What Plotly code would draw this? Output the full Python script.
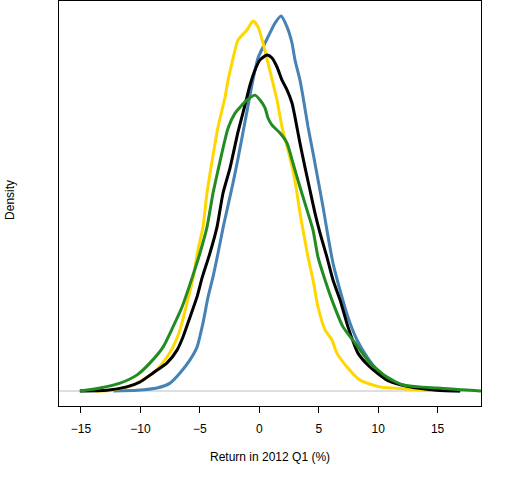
import plotly.graph_objects as go

# density curves (x in %, y in density units)
blue_x = [-12.28, -10.28, -8.60, -7.51, -6.67, -5.83, -5.24, -4.74, -4.31, -3.89, -3.47, -3.05,
          -2.63, -2.21, -1.79, -1.37, -0.95, -0.53, -0.11, 0.31, 0.73, 1.32, 1.83, 2.33, 2.75,
          3.00, 3.42, 3.68, 4.10, 4.52, 4.94, 5.36, 5.69, 6.20, 6.79, 7.46, 8.22, 9.06, 9.90,
          10.99, 12.67, 14.95, 16.9]
blue_y = [0.0, 0.0002, 0.0008, 0.0021, 0.0048, 0.0083, 0.0117, 0.0181, 0.0251, 0.0305, 0.0368,
          0.0435, 0.0495, 0.0555, 0.0620, 0.0690, 0.0760, 0.0830, 0.0888, 0.0917, 0.0944, 0.0981,
          0.1000, 0.0971, 0.0928, 0.0883, 0.0829, 0.0784, 0.0704, 0.0635, 0.0563, 0.0491, 0.0429,
          0.0341, 0.0269, 0.0197, 0.0136, 0.0091, 0.0056, 0.0029, 0.0011, 0.0003, 0.0]

gold_x = [-13.82, -12.56, -10.61, -8.94, -7.93, -7.26, -6.67, -6.08, -5.58, -5.16, -4.74, -4.40,
          -3.96, -3.47, -3.14, -2.88, -2.63, -2.30, -2.04, -1.79, -1.03, -0.53, -0.11,
          0.31, 0.73, 1.15, 1.49, 1.91, 2.41, 2.83, 3.17, 3.42, 3.68, 4.10, 4.52, 4.94, 5.53,
          6.11, 6.53, 7.38, 8.47, 10.15, 12.67, 14.4]
gold_y = [0.0, 0.0001, 0.0016, 0.0048, 0.0083, 0.0117, 0.0163, 0.0235, 0.0300, 0.0376, 0.0437,
          0.0528, 0.0616, 0.0704, 0.0749, 0.0784, 0.0829, 0.0875, 0.0909, 0.0936, 0.0963,
          0.0987, 0.0971, 0.0928, 0.0875, 0.0821, 0.0776, 0.0704, 0.0643, 0.0589, 0.0528, 0.0475,
          0.0429, 0.0357, 0.0296, 0.0224, 0.0163, 0.0136, 0.0101, 0.0064, 0.0029, 0.0011, 0.0005,
          0.0001]

black_x = [-15.1, -12.83, -11.15, -10.03, -8.94, -7.76, -6.92, -6.42, -5.83, -5.24, -4.82, -4.15,
           -3.56, -3.05, -2.46, -1.79, -1.20, -0.78, -0.36, 0.06, 0.65, 1.07, 1.49,
           1.91, 2.33, 2.75, 3.00, 3.42, 3.84, 4.26, 4.68, 5.11, 5.69, 6.20, 6.79, 7.46, 8.30,
           9.31, 10.74, 12.67, 14.95, 16.9]
black_y = [0.0, 0.0002, 0.0011, 0.0024, 0.0048, 0.0075, 0.0109, 0.0144, 0.0197, 0.0251, 0.0301,
           0.0368, 0.0437, 0.0528, 0.0595, 0.0691, 0.0763, 0.0816, 0.0856, 0.0883,
           0.0896, 0.0888, 0.0864, 0.0829, 0.0803, 0.0768, 0.0731, 0.0661, 0.0597, 0.0536, 0.0475,
           0.0421, 0.0357, 0.0296, 0.0243, 0.0171, 0.0101, 0.0064, 0.0029, 0.0011, 0.0002, 0.0]

green_x = [-15.08, -13.40, -11.71, -10.28, -9.19, -8.10, -7.26, -6.50, -5.66, -4.99, -4.40, -3.89,
           -3.47, -3.05, -2.63, -2.04, -1.62, -1.03, -0.36, 0.06, 0.48, 0.73, 1.07,
           1.74, 2.33, 2.83, 3.42, 4.01, 4.52, 4.94, 5.53, 6.20, 7.04, 8.05, 9.31, 10.74, 12.08,
           13.51, 14.95, 18.65, 19.5]
green_y = [0.0, 0.0008, 0.0021, 0.0043, 0.0075, 0.0117, 0.0171, 0.0224, 0.0301, 0.0368, 0.0437,
           0.0528, 0.0589, 0.0648, 0.0701, 0.0741, 0.0757, 0.0776, 0.0789, 0.0776, 0.0755, 0.0728,
           0.0709, 0.0688, 0.0661, 0.0608, 0.0544, 0.0483, 0.0429, 0.0357, 0.0296,
           0.0235, 0.0171, 0.0128, 0.0075, 0.0037, 0.0016, 0.0011, 0.0008, 0.0, 0.0]

tick_vals = [-15, -10, -5, 0, 5, 10, 15]

fig = go.Figure()
for xs, ys, col in [(blue_x, blue_y, "#4682B4"), (gold_x, gold_y, "#FFD700"),
                    (black_x, black_y, "black"), (green_x, green_y, "#228B22")]:
    fig.add_trace(go.Scatter(x=xs, y=ys, mode="lines",
                             line=dict(color=col, width=3, shape="spline", smoothing=0.6),
                             hoverinfo="skip"))

# grey zero line across the plot
fig.add_shape(type="line", xref="paper", yref="y", x0=0, x1=1, y0=0, y1=0,
              line=dict(color="#BEBEBE", width=1), layer="below")

fig.update_layout(
    width=512, height=480,
    margin=dict(l=59, r=31, t=1, b=74),
    paper_bgcolor="white", plot_bgcolor="white",
    showlegend=False,
    font=dict(family="Liberation Sans, Arial, sans-serif", size=12, color="black"),
    xaxis=dict(range=[-16.85, 18.65], tickvals=tick_vals, ticks="outside", ticklen=6,
               tickcolor="black", showgrid=False, zeroline=False, showline=True,
               linecolor="black", linewidth=1, mirror=True, tickfont=dict(size=12),
               ticklabelstandoff=6),
    yaxis=dict(range=[-0.004, 0.104], showticklabels=False, ticks="", showgrid=False,
               zeroline=False, showline=True, linecolor="black", linewidth=1, mirror=True),
    annotations=[
        dict(text="Return in 2012 Q1 (%)", xref="paper", yref="paper", x=0.5, y=-0.125,
             showarrow=False, yanchor="middle", font=dict(size=12)),
        dict(text="Density", xref="paper", yref="paper", x=-0.115, y=0.51, textangle=-90,
             showarrow=False, xanchor="center", font=dict(size=12)),
    ],
)

# page default body margin would push the figure 8px down/right
fig.write_html("out.html", config={"displayModeBar": False},
               post_script="document.body.style.margin='0px';")
